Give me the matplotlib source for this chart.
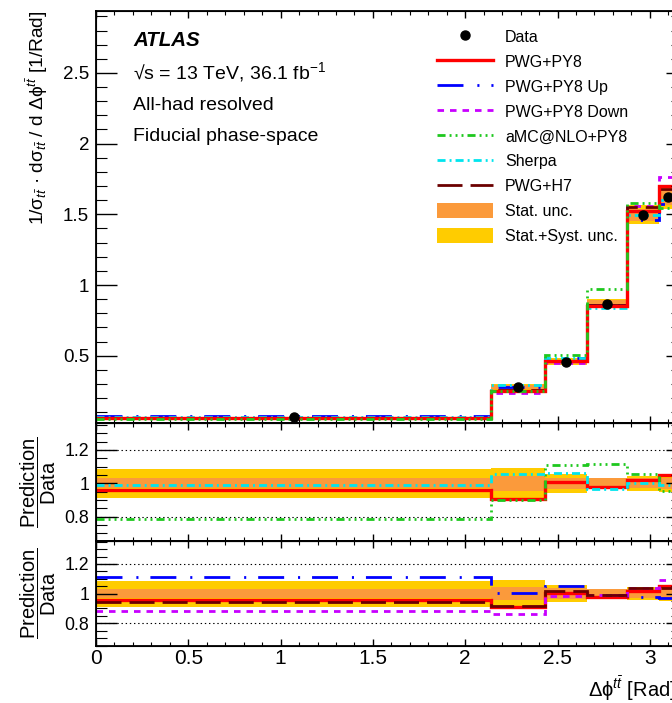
import matplotlib
matplotlib.use("Agg")
import matplotlib.pyplot as plt
import numpy as np
from matplotlib.lines import Line2D
from matplotlib.patches import Patch
from matplotlib.ticker import MultipleLocator, FormatStrFormatter

plt.rcParams["font.family"] = ["Liberation Sans", "DejaVu Sans"]
plt.rcParams["mathtext.fontset"] = "custom"
plt.rcParams["mathtext.rm"] = "Liberation Sans"
plt.rcParams["mathtext.it"] = "Liberation Sans:italic"
plt.rcParams["mathtext.bf"] = "Liberation Sans:bold"
plt.rcParams["lines.scale_dashes"] = False

# -----------------------------
# Measured distribution (normalised) in bins of delta-phi(t, tbar)
# -----------------------------
bin_edges = [0.0, 2.14, 2.43, 2.66, 2.875, 3.05, np.pi]
data_values = [0.064, 0.277, 0.457, 0.868, 1.496, 1.62]
stat_rel = [0.03, 0.045, 0.035, 0.03, 0.03, 0.035]
total_rel = [0.088, 0.092, 0.057, 0.034, 0.045, 0.05]

# Prediction / Data per bin
ratio_pwg_py8 = [0.96, 0.908, 1.006, 0.977, 1.018, 1.05]
ratio_pwg_py8_up = [1.115, 1.007, 1.054, 0.99, 0.975, 0.969]
ratio_pwg_py8_down = [0.885, 0.863, 0.982, 0.99, 1.04, 1.09]
ratio_amcnlo = [0.786, 0.90, 1.11, 1.116, 1.058, 0.954]
ratio_sherpa = [0.988, 1.056, 1.064, 0.968, 1.0, 0.99]
ratio_pwg_h7 = [0.942, 0.92, 1.018, 0.99, 1.036, 1.036]

x_ticks = [0, 0.5, 1, 1.5, 2, 2.5, 3]

COL_STAT = "#fb9a3b"
COL_SYST = "#ffcc00"

# label -> (ratios, colour, linewidth, dash pattern in points)
models = {
    "PWG+PY8": (ratio_pwg_py8, "#ff0000", 2.4, None),
    "PWG+PY8 Up": (ratio_pwg_py8_up, "#0000ff", 2.0, (18.7, 10.0, 1.5, 8.6)),
    "PWG+PY8 Down": (ratio_pwg_py8_down, "#c800ff", 2.0, (4.7, 4.3)),
    "aMC@NLO+PY8": (ratio_amcnlo, "#1ec81e", 2.0, (5.8, 2.9, 1.4, 2.9, 1.4, 2.9, 1.4, 2.9)),
    "Sherpa": (ratio_sherpa, "#00e5ee", 2.0, (5.8, 2.9, 1.4, 2.9)),
    "PWG+H7": (ratio_pwg_h7, "#6b0000", 2.0, (18.0, 5.8)),
}

edges = np.array(bin_edges)
data = np.array(data_values)
stat = np.array(stat_rel)
total = np.array(total_rel)


def line_style(dashes):
    return "-" if dashes is None else (0, dashes)


def draw_bands(ax, centre):
    ax.stairs(centre * (1 + total), edges, baseline=centre * (1 - total),
              fill=True, color=COL_SYST, lw=0, zorder=1)
    ax.stairs(centre * (1 + stat), edges, baseline=centre * (1 - stat),
              fill=True, color=COL_STAT, lw=0, zorder=1.5)


def draw_model(ax, name, scale, z=3):
    ratios, color, lw, dashes = models[name]
    ax.stairs(np.array(ratios) * scale, edges, baseline=None, color=color,
              lw=lw, linestyle=line_style(dashes), zorder=z)


def style_axes(ax, ymajor, yminor, top_ticks=True):
    ax.set_xlim(edges[0], edges[-1])
    ax.xaxis.set_major_locator(MultipleLocator(0.5))
    ax.xaxis.set_minor_locator(MultipleLocator(0.1))
    ax.xaxis.set_major_formatter(FormatStrFormatter("%g"))
    ax.yaxis.set_major_locator(MultipleLocator(ymajor))
    ax.yaxis.set_minor_locator(MultipleLocator(yminor))
    ax.yaxis.set_major_formatter(FormatStrFormatter("%g"))
    ax.tick_params(axis="x", which="major", direction="in", length=5, width=1.0,
                   top=top_ticks, bottom=True, labelbottom=False)
    ax.tick_params(axis="x", which="minor", direction="in", length=3, width=0.8,
                   top=top_ticks, bottom=True)
    ax.tick_params(axis="y", which="major", direction="in", length=15, width=1.0,
                   left=True, right=False, pad=5)
    ax.tick_params(axis="y", which="minor", direction="in", length=8, width=0.8,
                   left=True, right=False)
    for sp in ax.spines.values():
        sp.set_linewidth(1.3)
    # shorter ticks on the right-hand side
    twin = ax.twinx()
    twin.set_ylim(ax.get_ylim())
    twin.yaxis.set_major_locator(MultipleLocator(ymajor))
    twin.yaxis.set_minor_locator(MultipleLocator(yminor))
    twin.tick_params(axis="y", which="major", direction="in", length=7, width=1.0,
                     labelright=False)
    twin.tick_params(axis="y", which="minor", direction="in", length=3.5, width=0.8)
    twin.spines["right"].set_linewidth(1.3)


fig = plt.figure(figsize=(6.72, 7.03), dpi=100)
left, width = 96 / 672, 580 / 672
ax_main = fig.add_axes([left, 1 - 423 / 703, width, 412 / 703])
ax_r1 = fig.add_axes([left, 1 - 541 / 703, width, 118 / 703])
ax_r2 = fig.add_axes([left, 1 - 646 / 703, width, 105 / 703])

# --- main panel ---
ax_main.set_ylim(0.024, 2.938)
draw_bands(ax_main, data)
main_order = ["PWG+PY8 Up", "PWG+PY8 Down", "Sherpa", "PWG+H7", "PWG+PY8", "aMC@NLO+PY8"]
for i, name in enumerate(main_order):
    draw_model(ax_main, name, data, z=3 + 0.1 * i)
centres = 0.5 * (edges[:-1] + edges[1:])
ax_main.plot(centres, data, "o", color="black", ms=6.5, zorder=5)
style_axes(ax_main, 0.5, 0.1)
ax_main.tick_params(axis="y", labelsize=13.5)

# --- ratio panels ---
ratio_sets = [
    (ax_r1, ["PWG+PY8", "aMC@NLO+PY8", "Sherpa"], (0.654, 1.362)),
    (ax_r2, ["PWG+PY8", "PWG+PY8 Up", "PWG+PY8 Down", "PWG+H7"], (0.647, 1.355)),
]
for ax, names, ylim in ratio_sets:
    ax.set_ylim(*ylim)
    for level in (0.8, 1.2):
        ax.axhline(level, color="black", lw=0.8, linestyle=(0, (1.0, 2.0)), zorder=0.5)
    draw_bands(ax, np.ones_like(data))
    for i, name in enumerate(names):
        draw_model(ax, name, 1.0, z=3 + 0.1 * i)
    style_axes(ax, 0.2, 0.05)
    ax.tick_params(axis="y", labelsize=12.8)
    ax.set_yticks([0.8, 1.0, 1.2])
    ax.text(-0.1, 0.5, r"$\dfrac{\mathrm{Prediction}}{\mathrm{Data}}$",
            transform=ax.transAxes, rotation=90, ha="center", va="center",
            fontsize=14.5)

ax_r2.set_xticks(x_ticks)
ax_r2.tick_params(axis="x", labelbottom=True, labelsize=15, pad=2)

# --- axis titles ---
fig.text(37 / 672, 1 - 10 / 703,
         r"1/σ$_{t\bar{t}}$ · dσ$_{t\bar{t}}$ / d Δϕ$^{t\bar{t}}$ [1/Rad]",
         rotation=90, ha="center", va="top", fontsize=13.8)
fig.text(676 / 672, 1 - 697 / 703, r"Δϕ$^{t\bar{t}}$ [Rad]",
         ha="right", va="baseline", fontsize=14.5)

# --- labels ---
tx = 133 / 672
fig.text(tx, 1 - 46 / 703, "ATLAS", fontsize=14.8, fontweight="bold",
         fontstyle="italic", va="baseline")
fig.text(tx, 1 - 79 / 703, r"√s = 13 TeV, 36.1 fb$^{-1}$", fontsize=14, va="baseline")
fig.text(tx, 1 - 109.5 / 703, "All-had resolved", fontsize=14, va="baseline")
fig.text(tx, 1 - 141 / 703, "Fiducial phase-space", fontsize=14, va="baseline")

# --- legend ---
handles = [Line2D([], [], marker="o", color="black", ls="none", ms=6.5)]
labels = ["Data"]
for name, (_, color, lw, dashes) in models.items():
    handles.append(Line2D([], [], color=color, lw=lw, linestyle=line_style(dashes)))
    labels.append(name)
handles += [Patch(color=COL_STAT, lw=0), Patch(color=COL_SYST, lw=0)]
labels += ["Stat. unc.", "Stat.+Syst. unc."]
fig.legend(handles, labels, loc="upper left",
           bbox_to_anchor=(437 / 672, 1 - 29 / 703), frameon=False,
           fontsize=11.5, handlelength=3.5, handleheight=1.07,
           handletextpad=0.75, labelspacing=0.56, borderpad=0, borderaxespad=0)

fig.savefig("out.png", dpi=100)
